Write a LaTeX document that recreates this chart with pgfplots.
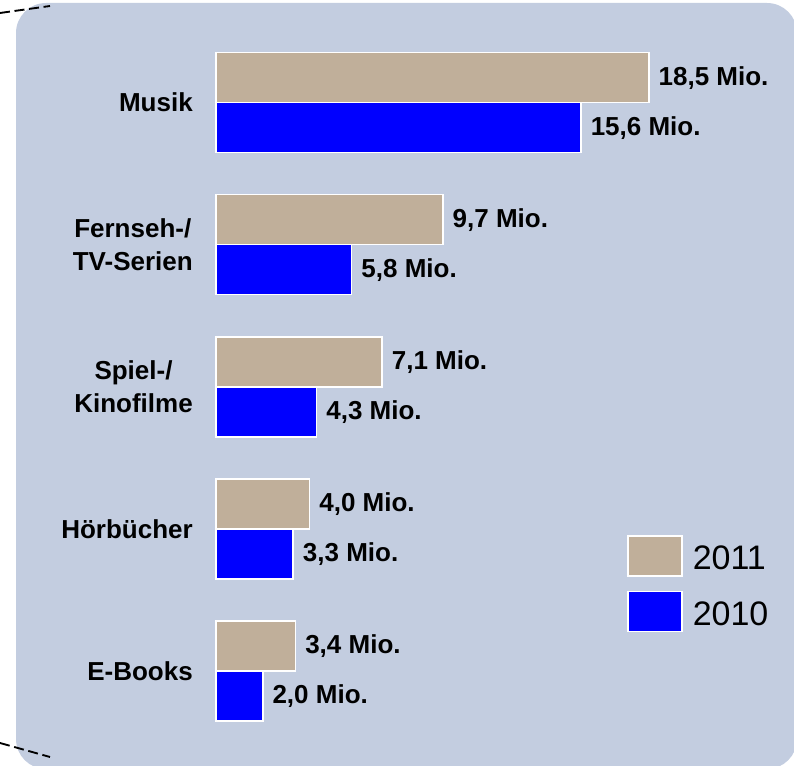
\documentclass[border=0pt]{standalone}
\usepackage{pgfplots}
\pgfplotsset{compat=1.18}
\usepackage{fontspec}
\setmainfont{Liberation Sans}
\definecolor{bg}{HTML}{C3CDE0}
\definecolor{tan}{HTML}{C0AF9A}
\definecolor{blu}{HTML}{0000FF}
\newcommand{\lblfont}{\bfseries\fontsize{19.5}{25}\selectfont}

\begin{document}
\begin{tikzpicture}
% background panel, pixel units (1px = 0.75pt), y down
\begin{scope}[x=0.75pt,y=-0.75pt]
  \useasboundingbox (0,0) rectangle (794,766);
  \fill[bg, rounded corners=22.5pt] (16,3) rectangle (797,769);
  \draw[line width=1.4pt, dash pattern=on 7.5pt off 3.5pt] (0,13) -- (50,6);
  \draw[line width=1.4pt, dash pattern=on 7.5pt off 3.5pt] (0,743) -- (50,757);
\end{scope}
\begin{axis}[
  at={(162pt,-503.25pt)}, anchor=origin,
  x=17.55pt, y=106.575pt,
  xmin=0, xmax=24, ymin=-0.6, ymax=4.6,
  xbar, bar width=37.5pt,
  axis line style={draw=none},
  xtick=\empty,
  ytick={0,...,4},
  yticklabels={E-Books, Hörbücher, {Spiel-/\\Kinofilme}, {Fernseh-/\\TV-Serien}, Musik},
  major tick length=0pt,
  yticklabel style={align=center, inner sep=0pt, xshift=-17.25pt, font=\lblfont},
  clip=false,
  point meta=x,
  nodes near coords={\pgfmathprintnumber[fixed,fixed zerofill,precision=1,use comma,assume math mode=true]{\pgfplotspointmeta}~Mio.},
  every node near coord/.append style={font=\lblfont, inner sep=0pt, xshift=6.75pt, anchor=west, black},
  legend image code/.code={\draw[#1,draw=white,line width=1.2pt] (0pt,-12.75pt) rectangle (40.5pt,17.25pt);},
  legend style={draw=none, fill=none, inner sep=0pt, row sep=10.4pt,
    nodes={inner sep=0pt}, font=\fontsize{25.5}{25.5}\selectfont,
    at={(axis cs:17.56,0.957)}, anchor=north west,
    /tikz/every odd column/.append style={column sep=7.5pt}},
  legend cell align=left,
]
\addplot[xbar, fill=tan, draw=white, line width=1.1pt, bar shift=18.75pt]
  coordinates {(18.5,4) (9.7,3) (7.1,2) (4.0,1) (3.4,0)};
\addlegendentry{2011}
\addplot[xbar, fill=blu, draw=white, line width=1.1pt, bar shift=-18.75pt]
  coordinates {(15.6,4) (5.8,3) (4.3,2) (3.3,1) (2.0,0)};
\addlegendentry{2010}
\end{axis}
\end{tikzpicture}
\end{document}
